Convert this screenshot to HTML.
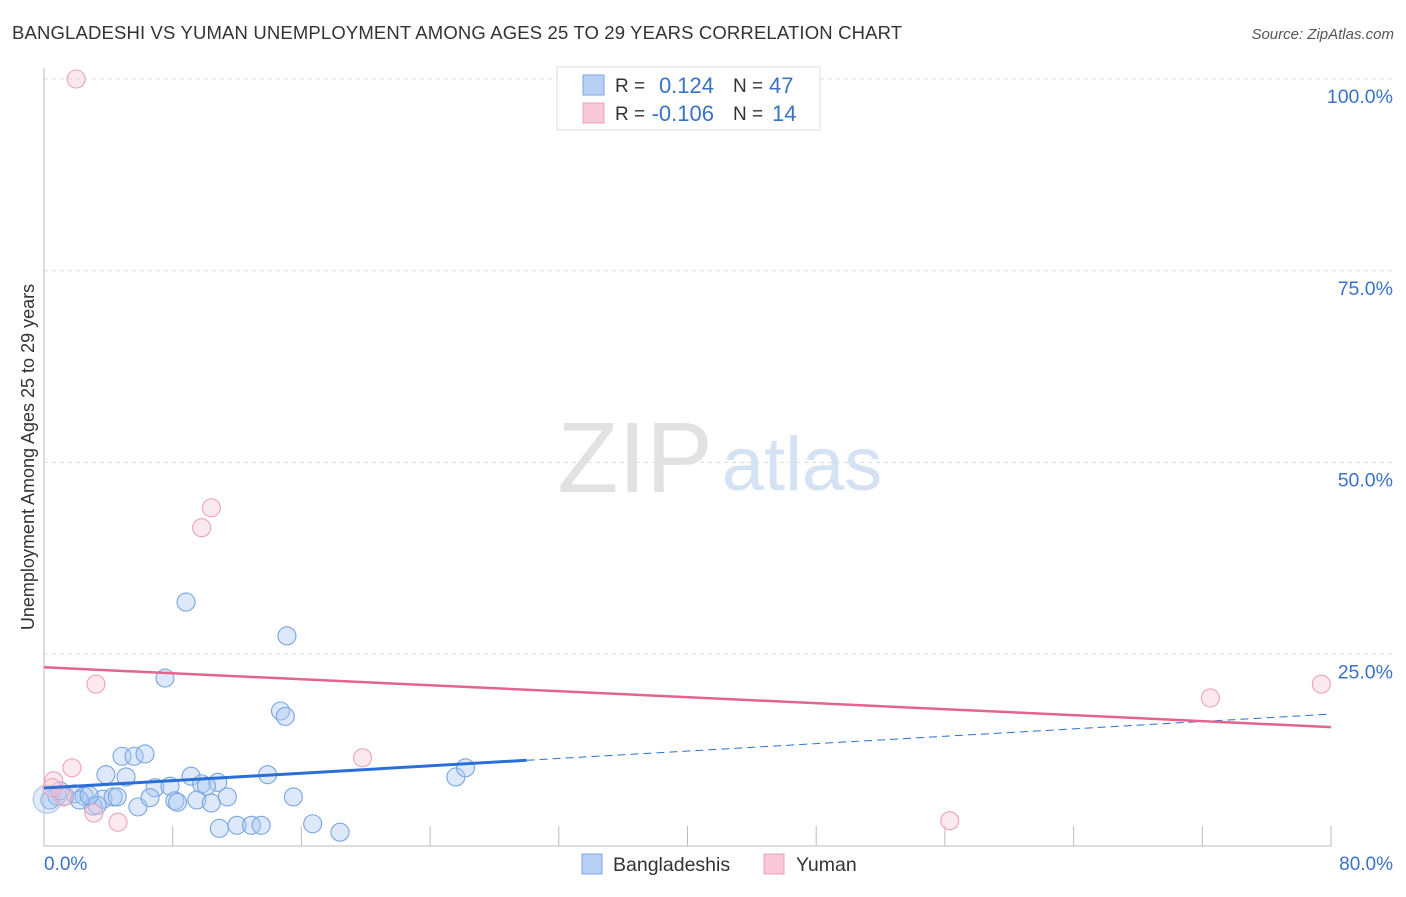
<!DOCTYPE html>
<html><head><meta charset="utf-8"><style>
body{margin:0;background:#fff;font-family:"Liberation Sans",sans-serif}
svg text{font-family:"Liberation Sans",sans-serif}
</style></head><body>
<svg width="1406" height="892" xmlns="http://www.w3.org/2000/svg">
<text x="12" y="39" font-size="18.5" fill="#333" letter-spacing="0.15">BANGLADESHI VS YUMAN UNEMPLOYMENT AMONG AGES 25 TO 29 YEARS CORRELATION CHART</text>
<text x="1394" y="39" font-size="15" fill="#555" font-style="italic" text-anchor="end">Source: ZipAtlas.com</text>
<g id="grid"></g>
<g><text x="635" y="492" font-size="100" font-family="Liberation Serif" fill="#e2e2e2" text-anchor="middle">ZIP</text><text x="802" y="490" font-size="76" fill="#d4e2f4" text-anchor="middle">atlas</text></g>
<line x1="44" y1="68" x2="44" y2="846" stroke="#bbb"/>
<line x1="44" y1="846" x2="1331" y2="846" stroke="#bbb"/>
<text x="34" y="457" font-size="18" fill="#333" text-anchor="middle" transform="rotate(-90 34 457)">Unemployment Among Ages 25 to 29 years</text>
<text x="44" y="870" font-size="19" fill="#3a72c8">0.0%</text>
<text x="1393" y="870" font-size="19" fill="#3a72c8" text-anchor="end">80.0%</text>
<g id="points"></g>
<g id="lines"></g>
<g>
<rect x="557" y="67" width="263" height="63" fill="#fff" stroke="#ddd"/>
<rect x="583" y="75" width="21" height="20" fill="#b8d0f4" stroke="#7aa4e4"/>
<rect x="583" y="103" width="21" height="20" fill="#f8c8d8" stroke="#eea0b8"/>
<text x="615" y="92" font-size="19" fill="#333">R =</text><text x="714" y="93" font-size="22" fill="#3a72c8" text-anchor="end">0.124</text>
<text x="733" y="92" font-size="19" fill="#333">N =</text><text x="769" y="93" font-size="22" fill="#3a72c8">47</text>
<text x="615" y="120" font-size="19" fill="#333">R =</text><text x="714" y="121" font-size="22" fill="#3a72c8" text-anchor="end">-0.106</text>
<text x="733" y="120" font-size="19" fill="#333">N =</text><text x="772" y="121" font-size="22" fill="#3a72c8">14</text>
</g>
<g>
<rect x="582" y="854" width="20" height="20" fill="#b8d0f4" stroke="#7aa4e4"/>
<text x="613" y="871" font-size="19.5" fill="#333">Bangladeshis</text>
<rect x="764" y="854" width="20" height="20" fill="#f8c8d8" stroke="#eea0b8"/>
<text x="796" y="871" font-size="19.5" fill="#333">Yuman</text>
</g>
</svg>
<script>
const yTicks=[25,50,75,100];
const yTickLabels=["25.0%","50.0%","75.0%","100.0%"];
const xTicks=[0,8,16,24,32,40,48,56,64,72,80];
const blueX=[8.83,15.1,7.52,14.7,15.0,4.85,5.6,6.28,3.85,5.1,9.14,13.9,6.9,7.83,9.8,10.8,10.1,25.6,26.2,0.37,0.8,1.3,1.9,2.5,3.67,4.3,4.55,3.05,3.3,5.84,6.59,8.14,8.3,9.5,10.4,11.4,15.5,10.9,12.0,12.9,13.5,16.7,18.4,0.2,1.0,2.2,2.8];
const blueY=[31.8,27.4,21.9,17.6,16.9,11.7,11.7,12.0,9.3,9.0,9.1,9.3,7.6,7.8,8.1,8.3,7.8,9.0,10.2,6.0,6.5,6.5,6.8,6.5,6.1,6.4,6.4,5.2,5.3,5.1,6.3,5.9,5.7,6.0,5.6,6.4,6.4,2.3,2.7,2.7,2.7,2.9,1.8,6.1,7.2,6.0,6.6];
const blueR=Array(47).fill(9);blueR[43]=14;
const pinkX=[2.0,10.4,9.8,3.23,72.5,79.4,19.8,1.74,0.6,3.1,4.6,56.3,1.2,0.5];
const pinkY=[100,44.1,41.5,21.1,19.3,21.1,11.5,10.2,8.5,4.3,3.1,3.3,6.4,7.6];
const blueTrend=[7.56,17.2]; const blueSolidEnd=30;
const pinkTrend=[23.3,15.5];
const NS="http://www.w3.org/2000/svg";
const sx=v=>44+v/80*1287, sy=v=>846-v/100*767;
function mk(t,a,p){const e=document.createElementNS(NS,t);for(const k in a)e.setAttribute(k,a[k]);document.getElementById(p).appendChild(e);return e;}
yTicks.forEach((t,i)=>{
 const l=mk('line',{x1:44,x2:1393,y1:sy(t),y2:sy(t),stroke:'#ddd','stroke-dasharray':'4,4'},'grid');
 
 
 const tx=mk('text',{x:1393,y:sy(t)+24,'font-size':19.5,fill:'#3a72c8','text-anchor':'end'},'grid');
 tx.textContent=yTickLabels[i];
 
 
});
xTicks.forEach(t=>{
 const l=mk('line',{x1:sx(t),x2:sx(t),y1:826,y2:846,stroke:'#bbb'},'grid');
 
 
});
blueX.forEach((x,i)=>{
 const c=mk('circle',{cx:sx(x),cy:sy(blueY[i]),r:blueR[i],fill:i===43?'rgba(170,200,240,0.35)':'rgba(170,200,242,0.4)',stroke:i===43?'#a8c4ec':'#78a4e2','stroke-width':1.1},'points');
 
 
});
pinkX.forEach((x,i)=>{
 const c=mk('circle',{cx:sx(x),cy:sy(pinkY[i]),r:9,fill:'rgba(248,200,215,0.4)',stroke:'#eea2ba','stroke-width':1.1},'points');
 
 
});
const by=x=>blueTrend[0]+(blueTrend[1]-blueTrend[0])*x/80;
let l=mk('line',{x1:sx(0),y1:sy(by(0)),x2:sx(blueSolidEnd),y2:sy(by(blueSolidEnd)),stroke:'#2a6fd6','stroke-width':3},'lines');


l=mk('line',{x1:sx(blueSolidEnd),y1:sy(by(blueSolidEnd)),x2:sx(80),y2:sy(by(80)),stroke:'#2a6fd6','stroke-width':1,'stroke-dasharray':'8,5'},'lines');


l=mk('line',{x1:sx(0),y1:sy(pinkTrend[0]),x2:sx(80),y2:sy(pinkTrend[1]),stroke:'#e4648e','stroke-width':2.5},'lines');


</script>
</body></html>
